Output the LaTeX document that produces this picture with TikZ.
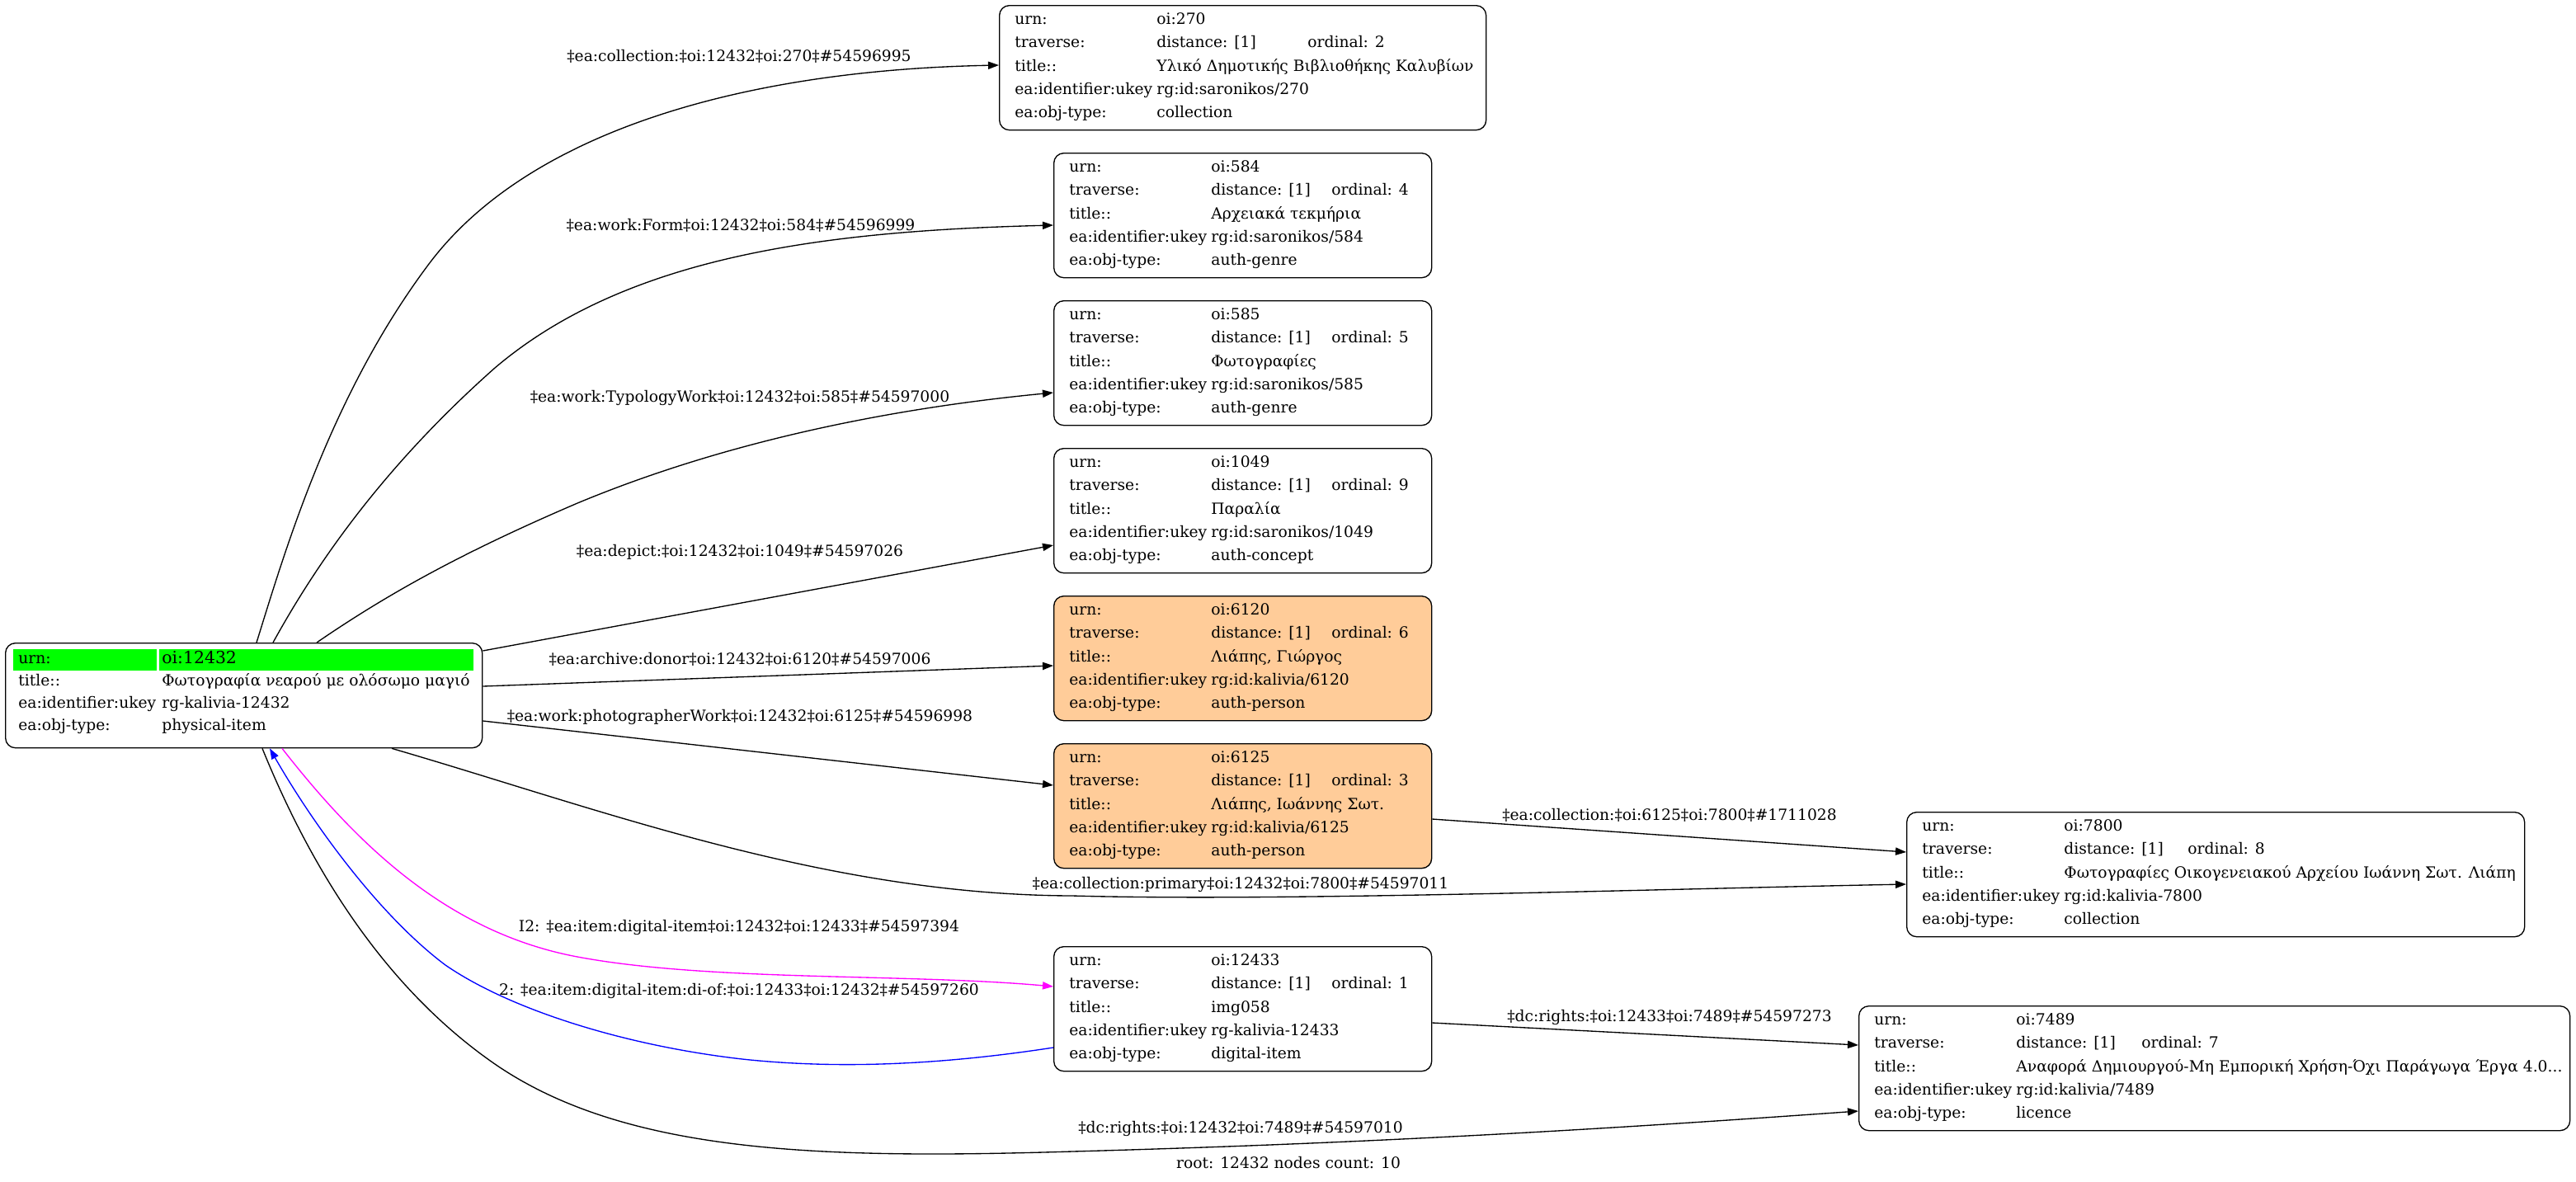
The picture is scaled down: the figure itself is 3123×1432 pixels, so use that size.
\documentclass[tikz,border=0pt]{standalone}
\usepackage{fontspec}
\setmainfont{DejaVu Serif}
\usetikzlibrary{arrows.meta,calc}
\definecolor{gvorange}{HTML}{FFCC99}
\definecolor{gvgreen}{HTML}{00FF00}
\definecolor{gvmagenta}{HTML}{FF00FF}
\definecolor{gvblue}{HTML}{0000FF}
\newcommand\gvfont{\fontsize{9.35}{11}\selectfont}
\newcommand\ordoff{337}
\tikzset{
  recbox/.style={draw=black, line width=0.67pt, rounded corners=6pt, minimum height={151*0.5pt}, inner sep=0pt},
  rt/.style={anchor=base west, inner sep=0pt, font=\gvfont},
  elabel/.style={inner sep=0pt, font=\gvfont},
  gvedge/.style={draw, line width=0.67pt, -{Triangle[length=6.5pt,width=4.6pt]}},
}
% #1 name, #2 top-left, #3 width(px), #4 fill style, #5 urn, #6 ordinal, #7 title, #8 ukey, #9 type
\newcommand\recnode[9]{%
  \node[recbox,#4,minimum width={#3*0.5pt},anchor=north west] (#1) at #2 {};
  \node[rt] (#1-a1) at ($(#1.north west)+(19,23.5)$) {urn:};
  \node[rt] (#1-b1) at ($(#1.north west)+(191,23.5)$) {#5};
  \node[rt] (#1-a2) at ($(#1.north west)+(19,51.8)$) {traverse:};
  \node[rt] (#1-b2) at ($(#1.north west)+(191,51.8)$) {distance: [1]};
  \node[rt] (#1-c2) at ($(#1.north west)+(\ordoff,51.8)$) {ordinal: #6};
  \node[rt] (#1-a3) at ($(#1.north west)+(19,80.1)$) {title::};
  \node[rt] (#1-b3) at ($(#1.north west)+(191,80.1)$) {#7};
  \node[rt] (#1-a4) at ($(#1.north west)+(19,108.4)$) {ea:identifier:ukey};
  \node[rt] (#1-b4) at ($(#1.north west)+(191,108.4)$) {#8};
  \node[rt] (#1-a5) at ($(#1.north west)+(19,136.7)$) {ea:obj-type:};
  \node[rt] (#1-b5) at ($(#1.north west)+(191,136.7)$) {#9};
}
\begin{document}
\begin{tikzpicture}[x=0.5pt,y=-0.5pt]
\useasboundingbox[fill=white] (0,0) rectangle (3123,1432);

% root node
\node[recbox,fill=white,minimum width={578*0.5pt},minimum height={127*0.5pt},anchor=north west] (root) at (6,779) {};
\fill[gvgreen] ($(root.north west)+(10,8)$) rectangle ($(root.north west)+(184,34)$);
\fill[gvgreen] ($(root.north west)+(187,8)$) rectangle ($(root.north west)+(568,34)$);
\node[rt] (root-a1) at ($(root.north west)+(16,25.5)$) {urn:};
\node[rt] (root-b1) at ($(root.north west)+(190,25.5)$) {\fontsize{10.2}{12}\selectfont oi:12432};
\node[rt] (root-a2) at ($(root.north west)+(16,52.5)$) {title::};
\node[rt] (root-b2) at ($(root.north west)+(190,52.5)$) {Φωτογραφία νεαρού με ολόσωμο μαγιό};
\node[rt] (root-a3) at ($(root.north west)+(16,79.5)$) {ea:identifier:ukey};
\node[rt] (root-b3) at ($(root.north west)+(190,79.5)$) {rg-kalivia-12432};
\node[rt] (root-a4) at ($(root.north west)+(16,106.5)$) {ea:obj-type:};
\node[rt] (root-b4) at ($(root.north west)+(190,106.5)$) {physical-item};

\renewcommand\ordoff{374}
\recnode{n270}{(1211,6)}{590}{fill=white}{oi:270}{2}{Υλικό Δημοτικής Βιβλιοθήκης Καλυβίων}{rg:id:saronikos/270}{collection}
\renewcommand\ordoff{337}
\recnode{n584}{(1277,185)}{458}{fill=white}{oi:584}{4}{Αρχειακά τεκμήρια}{rg:id:saronikos/584}{auth-genre}
\recnode{n585}{(1277,364)}{458}{fill=white}{oi:585}{5}{Φωτογραφίες}{rg:id:saronikos/585}{auth-genre}
\recnode{n1049}{(1277,543)}{458}{fill=white}{oi:1049}{9}{Παραλία}{rg:id:saronikos/1049}{auth-concept}
\recnode{n6120}{(1277,722)}{458}{fill=gvorange}{oi:6120}{6}{Λιάπης, Γιώργος}{rg:id:kalivia/6120}{auth-person}
\recnode{n6125}{(1277,901)}{458}{fill=gvorange}{oi:6125}{3}{Λιάπης, Ιωάννης Σωτ.}{rg:id:kalivia/6125}{auth-person}
\recnode{n12433}{(1277,1147)}{458}{fill=white}{oi:12433}{1}{img058}{rg-kalivia-12433}{digital-item}
\renewcommand\ordoff{341}
\recnode{n7800}{(2311,984)}{749}{fill=white}{oi:7800}{8}{Φωτογραφίες Οικογενειακού Αρχείου Ιωάννη Σωτ. Λιάπη}{rg:id:kalivia-7800}{collection}
\renewcommand\ordoff{343}
\recnode{n7489}{(2253,1219)}{862}{fill=white}{oi:7489}{7}{Αναφορά Δημιουργού-Μη Εμπορική Χρήση-Όχι Παράγωγα Έργα 4.0...}{rg:id:kalivia/7489}{licence}

% edges
\draw[gvedge,black] ($(root.north west)+(305,0)$) .. controls (345,670) and (400,480) .. (520,320)
   .. controls (640,160) and (900,85) .. ($(n270.north west)+(0,73)$);
\draw[gvedge,black] ($(root.north west)+(325,0)$) .. controls (380,690) and (460,570) .. (600,446)
   .. controls (760,310) and (1000,280) .. ($(n584.north west)+(0,88)$);
\draw[gvedge,black] ($(root.north west)+(378,0)$) .. controls (470,720) and (560,670) .. (700,610)
   .. controls (880,535) and (1080,495) .. ($(n585.north west)+(0,112)$);
\draw[gvedge,black] ($(root.north east)+(0,10)$) -- ($(n1049.north west)+(0,118)$);
\draw[gvedge,black] ($(root.north east)+(0,53)$) -- ($(n6120.north west)+(0,85)$);
\draw[gvedge,black] ($(root.north east)+(0,95)$) -- ($(n6125.north west)+(0,51)$);
\draw[gvedge,black] ($(root.south west)+(469,0)$) .. controls (725,980) and (1000,1085) .. (1300,1086)
   .. controls (1550,1093) and (2000,1078) .. ($(n7800.north west)+(0,88)$);
\draw[gvedge,black] ($(n6125.north east)+(0,92)$) -- ($(n7800.north west)+(0,49)$);
\draw[gvedge,gvmagenta] ($(root.south west)+(336,0)$) .. controls (430,1020) and (540,1130) .. (700,1160)
   .. controls (860,1190) and (1100,1180) .. ($(n12433.north west)+(0,49)$);
\draw[gvedge,gvblue] ($(n12433.north west)+(0,123)$) .. controls (1160,1288) and (1030,1298) .. (900,1284)
   .. controls (760,1268) and (620,1225) .. (540,1170)
   .. controls (460,1110) and (380,1000) .. ($(root.south west)+(321,0)$);
\draw[gvedge,black] ($(n12433.north east)+(0,93)$) -- ($(n7489.north west)+(0,48)$);
\draw[gvedge,black] ($(root.south west)+(312,0)$) .. controls (380,1060) and (470,1200) .. (600,1290)
   .. controls (760,1400) and (1000,1405) .. (1300,1396)
   .. controls (1700,1385) and (2000,1365) .. ($(n7489.north west)+(0,128)$);

% edge labels
\node[elabel] (l1) at (896,68) {‡ea:collection:‡oi:12432‡oi:270‡\#54596995};
\node[elabel] (l2) at (898,273) {‡ea:work:Form‡oi:12432‡oi:584‡\#54596999};
\node[elabel] (l3) at (897,482) {‡ea:work:TypologyWork‡oi:12432‡oi:585‡\#54597000};
\node[elabel] (l4) at (897,669) {‡ea:depict:‡oi:12432‡oi:1049‡\#54597026};
\node[elabel] (l5) at (897,799) {‡ea:archive:donor‡oi:12432‡oi:6120‡\#54597006};
\node[elabel] (l6) at (897,869) {‡ea:work:photographerWork‡oi:12432‡oi:6125‡\#54596998};
\node[elabel] (l7) at (1504,1072) {‡ea:collection:primary‡oi:12432‡oi:7800‡\#54597011};
\node[elabel] (l8) at (2024,988) {‡ea:collection:‡oi:6125‡oi:7800‡\#1711028};
\node[elabel] (l9) at (896,1124) {I2: ‡ea:item:digital-item‡oi:12432‡oi:12433‡\#54597394};
\node[elabel] (l10) at (896,1201) {2: ‡ea:item:digital-item:di-of:‡oi:12433‡oi:12432‡\#54597260};
\node[elabel] (l11) at (2024,1233) {‡dc:rights:‡oi:12433‡oi:7489‡\#54597273};
\node[elabel] (l12) at (1504,1368) {‡dc:rights:‡oi:12432‡oi:7489‡\#54597010};
\node[elabel] (footer) at (1562,1410) {root: 12432 nodes count: 10};
\end{tikzpicture}
\end{document}
